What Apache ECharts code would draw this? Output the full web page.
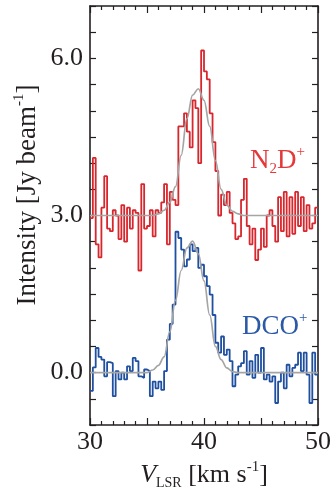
<!DOCTYPE html>
<html>
<head>
<meta charset="utf-8">
<script src="https://cdn.jsdelivr.net/npm/echarts@6/dist/echarts.min.js"></script>
<style>
  html, body { margin: 0; padding: 0; background: #fff; }
  #chart { width: 330px; height: 491px; }
</style>
</head>
<body>
<div id="chart"></div>
<script>
// channel grid (km/s)
const VEL_START = 30.0;
const CHAN_WIDTH = 0.25;

// N2D+ spectrum, offset by +3 Jy/beam
const N2DP = [
  2.95, 4.1, 2.45, 2.2, 3.15, 3.75, 2.75, 2.7, 3.1, 3.0,
  2.55, 3.2, 2.5, 3.15, 2.75, 3.1, 3.05, 1.95, 3.6, 2.75,
  2.8, 3.1, 2.6, 3.1, 3.05, 3.25, 3.6, 2.45, 3.45, 3.3,
  3.2, 4.7, 4.7, 4.95, 4.6, 4.3, 5.2, 5.05, 4.0, 6.15,
  5.75, 5.6, 4.95, 4.4, 3.85, 3.0, 3.4, 3.2, 3.45, 3.05,
  2.85, 2.55, 2.6, 3.3, 3.7, 2.8, 2.45, 2.75, 2.15, 2.35,
  2.75, 2.4, 3.0, 3.1, 2.8, 2.5, 3.35, 2.7, 3.45, 2.6,
  3.35, 2.65, 3.45, 2.8, 3.35, 2.7, 3.2, 2.75, 2.85, 3.15
];

// DCO+ spectrum
const DCOP = [
  -0.35, 0.1, 0.47, 0.3, 0.25, -0.07, 0.2, 0.18, -0.45, 0.03,
  -0.13, 0.0, -0.13, 0.12, 0.03, 0.28, 0.22, -0.07, -0.1, 0.06,
  0.03, -0.45, -0.17, -0.3, -0.17, -0.33, 0.03, 0.63, 0.93, 1.3,
  2.69, 2.57, 2.35, 2.03, 2.16, 2.45, 2.32, 2.38, 2.0, 2.06,
  1.84, 1.65, 1.49, 1.1, 0.57, 0.38, 0.69, 0.34, 0.44, 0.22,
  -0.26, -0.04, 0.12, 0.18, 0.41, -0.04, 0.22, -0.1, 0.34, 0.0,
  0.47, -0.13, -0.04, -0.17, -0.07, -0.58, -0.17, 0.0, -0.3, 0.15,
  -0.07, 0.09, 0.15, 0.38, 0.03, 0.38, -0.04, -0.58, 0.38, -0.04
];

// fitted profiles (gray)
const FIT_VEL = [30, 35.0, 35.5, 36.0, 36.5, 37.0, 37.5, 38.0, 38.5, 39.0, 39.5, 40.0, 40.5, 41.0, 41.5, 42.0, 42.5, 43.0, 43.5, 50];
const FIT_N2DP = [3.0, 3.0, 3.0, 3.03, 3.1, 3.25, 3.55, 4.15, 4.85, 5.3, 5.42, 5.2, 4.7, 4.05, 3.5, 3.2, 3.08, 3.03, 3.0, 3.0];
const FIT_DCOP = [0.0, 0.0, 0.05, 0.14, 0.3, 0.78, 1.38, 1.95, 2.38, 2.51, 2.27, 1.75, 1.1, 0.5, 0.25, 0.09, 0.02, 0.0, 0.0, 0.0];

const RED = '#d8262d';
const BLUE = '#1e4fa0';
const GRAY = '#a5a5a5';
const INK = '#231f20';
const SERIF = 'Liberation Serif';

function stepData(vals) {
  const out = vals.map((v, i) => [VEL_START + i * CHAN_WIDTH, v]);
  out.push([VEL_START + vals.length * CHAN_WIDTH, vals[vals.length - 1]]);
  return out;
}

function fitData(ys) {
  return FIT_VEL.map((v, i) => [v, ys[i]]);
}

const chart = echarts.init(document.getElementById('chart'));

const tickStyle = { lineStyle: { color: INK, width: 1.2 } };
const frameLine = { show: true, onZero: false, lineStyle: { color: INK, width: 1.6 } };

chart.setOption({
  animation: false,
  grid: { left: 90, right: 12, top: 6, bottom: 66, containLabel: false, outerBoundsMode: 'none' },
  xAxis: [{
    type: 'value', min: 30, max: 50, interval: 5,
    axisLine: frameLine,
    axisTick: { inside: true, length: 7, ...tickStyle },
    minorTick: { show: true, splitNumber: 5, length: 4, ...tickStyle },
    splitLine: { show: false },
    axisLabel: {
      color: INK, fontFamily: SERIF, fontSize: 26, margin: 4,
      formatter: v => (v % 10 === 0 ? String(v) : '')
    },
    name: '{i|V}{sub|LSR}{a| [km s}{s|-1}{a|]}',
    nameLocation: 'middle', nameGap: 28,
    nameTextStyle: {
      rich: {
        i: { fontFamily: SERIF, fontStyle: 'italic', fontSize: 26, color: INK, lineHeight: 30 },
        a: { fontFamily: SERIF, fontSize: 26, color: INK, lineHeight: 30 },
        sub: { fontFamily: SERIF, fontSize: 14, color: INK, verticalAlign: 'bottom', lineHeight: 20 },
        s: { fontFamily: SERIF, fontSize: 15, color: INK, verticalAlign: 'top', lineHeight: 20 }
      }
    }
  }, {
    type: 'value', position: 'top', min: 30, max: 50, interval: 5,
    axisLine: frameLine,
    axisTick: { inside: true, length: 7, ...tickStyle },
    minorTick: { show: true, splitNumber: 5, length: 4, ...tickStyle },
    splitLine: { show: false },
    axisLabel: { show: false }
  }],
  yAxis: [{
    type: 'value', min: -1, max: 7, interval: 0.5,
    axisLine: frameLine,
    axisTick: { show: true, inside: true, length: 6, ...tickStyle },
    splitLine: { show: false },
    axisLabel: {
      color: INK, fontFamily: SERIF, fontSize: 26, margin: 7,
      formatter: v => (Math.abs(v % 3) < 1e-9 ? v.toFixed(1) : '')
    }
  }, {
    type: 'value', position: 'right', min: -1, max: 7, interval: 0.5,
    axisLine: frameLine,
    axisTick: { show: true, inside: true, length: 6, ...tickStyle },
    splitLine: { show: false },
    axisLabel: { show: false }
  }],
  series: [
    {
      name: 'N2D+', type: 'line', step: 'end', data: stepData(N2DP),
      showSymbol: false, lineStyle: { color: RED, width: 1.8 }, z: 2
    },
    {
      name: 'DCO+', type: 'line', step: 'end', data: stepData(DCOP),
      showSymbol: false, lineStyle: { color: BLUE, width: 1.8 }, z: 2
    },
    {
      name: 'N2D+ fit', type: 'line', data: fitData(FIT_N2DP), smooth: 0.4, smoothMonotone: 'x',
      showSymbol: false, lineStyle: { color: GRAY, width: 1.7 }, z: 3
    },
    {
      name: 'DCO+ fit', type: 'line', data: fitData(FIT_DCOP), smooth: 0.4, smoothMonotone: 'x',
      showSymbol: false, lineStyle: { color: GRAY, width: 1.7 }, z: 3
    }
  ],
  graphic: [
    {
      // y axis title
      type: 'text', x: 28, y: 195, rotation: Math.PI / 2, z: 10,
      style: {
        text: '{a|Intensity [Jy beam}{s|-1}{a|]}',
        align: 'center', verticalAlign: 'middle',
        rich: {
          a: { fontFamily: SERIF, fontSize: 27, fill: INK, lineHeight: 32 },
          s: { fontFamily: SERIF, fontSize: 15, fill: INK, verticalAlign: 'top', lineHeight: 22 }
        }
      }
    },
    {
      type: 'text', left: 250, top: 145, z: 10,
      style: {
        text: '{a|N}{b|2}{a|D}{c|+}',
        rich: {
          a: { fontFamily: SERIF, fontSize: 27, fill: '#e4393b', lineHeight: 32 },
          b: { fontFamily: SERIF, fontSize: 15, fill: '#e4393b', verticalAlign: 'bottom', lineHeight: 22 },
          c: { fontFamily: SERIF, fontSize: 15, fill: '#e4393b', verticalAlign: 'top', lineHeight: 22 }
        }
      }
    },
    {
      type: 'text', left: 242, top: 311, z: 10,
      style: {
        text: '{a|DCO}{c|+}',
        rich: {
          a: { fontFamily: SERIF, fontSize: 27, fill: '#2b59a8', lineHeight: 32 },
          c: { fontFamily: SERIF, fontSize: 15, fill: '#2b59a8', verticalAlign: 'top', lineHeight: 22 }
        }
      }
    }
  ]
});
</script>
</body>
</html>
